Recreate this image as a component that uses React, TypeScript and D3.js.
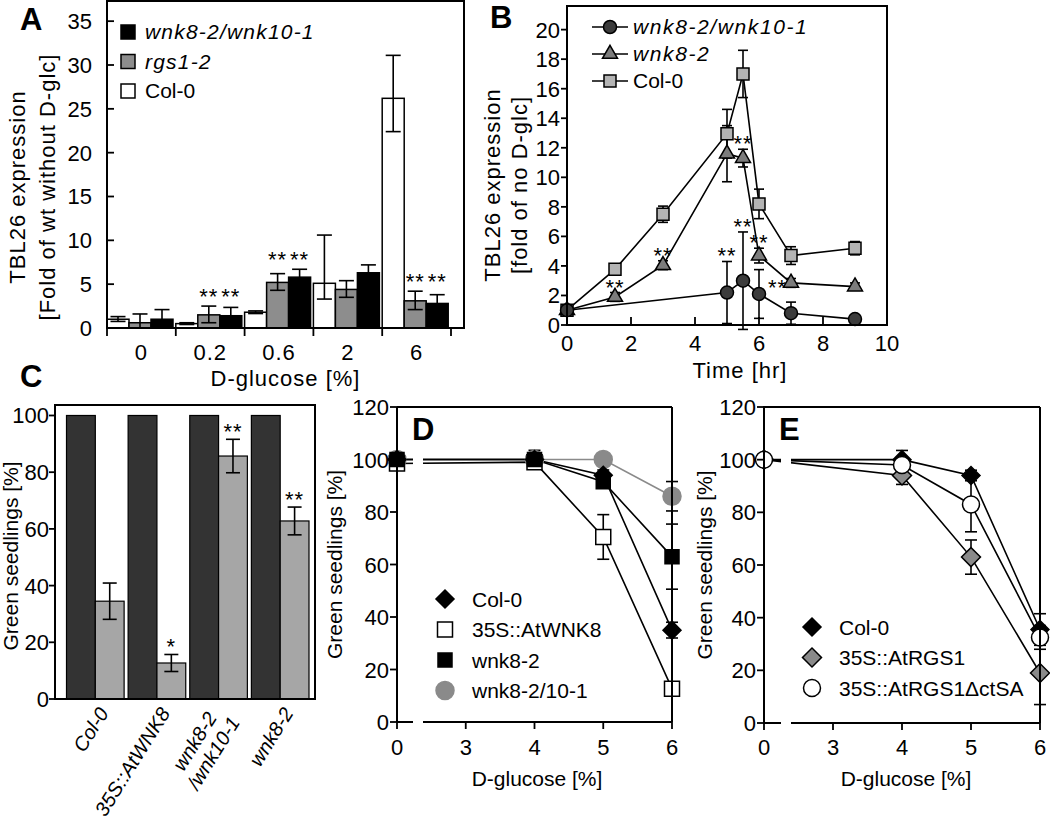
import React from "react";
import * as d3 from "d3";

const FONT = "'Liberation Sans', Arial, Helvetica, sans-serif";

// ---------------- Panel A data ----------------
const A_groups = ["0", "0.2", "0.6", "2", "6"];
const A_series = ["Col-0", "rgs1-2", "wnk8-2/wnk10-1"];
const A_col0 = [1.0, 0.5, 1.8, 5.1, 26.2];
const A_col0Up = [0.3, 0.1, 0.15, 5.5, 4.9];
const A_col0Down = [0.25, 0.1, 0.15, 1.8, 3.8];
const A_rgs = [0.6, 1.5, 5.2, 4.4, 3.1];
const A_rgsUp = [1.0, 1.0, 1.0, 1.0, 1.1];
const A_rgsDown = [0.6, 0.9, 0.9, 0.9, 1.0];
const A_wnk = [1.0, 1.4, 5.8, 6.3, 2.8];
const A_wnkUp = [1.1, 0.95, 0.9, 0.9, 1.0];
const A_wnkDown = [1.0, 0.9, 0.9, 0.9, 1.0];
const A_sig = ["", "**", "**", "", "**"];
const A_yTicks = [0, 5, 10, 15, 20, 25, 30, 35];

// ---------------- Panel B data ----------------
const B_names = ["wnk8-2/wnk10-1", "wnk8-2", "Col-0"];
const B_circleT = [0, 5, 5.5, 6, 7, 9];
const B_circle = [1.0, 2.2, 3.0, 2.1, 0.8, 0.4];
const B_circleErr = [0.15, 2.1, 3.3, 1.65, 0.75, 0.2];
const B_circleSig = ["", "**", "**", "**", "", ""];
const B_triT = [0, 1.5, 3, 5, 5.5, 6, 7, 9];
const B_tri = [1.0, 1.9, 4.05, 11.6, 11.3, 4.7, 2.85, 2.6];
const B_triErr = [0.1, 0.3, 0.3, 1.9, 0.6, 0.5, 0.3, 0.25];
const B_triSig = ["", "**", "**", "", "**", "**", "", ""];
const B_sqT = [0, 1.5, 3, 5, 5.5, 6, 7, 9];
const B_sq = [1.0, 3.77, 7.5, 12.95, 17.0, 8.2, 4.7, 5.2];
const B_sqErr = [0.1, 0.2, 0.55, 1.65, 1.6, 1.0, 0.6, 0.45];
const B_xTicks = [0, 2, 4, 6, 8, 10];
const B_yTicks = [0, 2, 4, 6, 8, 10, 12, 14, 16, 18, 20];

// ---------------- Panel C data ----------------
const C_groups = ["Col-0", "35S::AtWNK8", "wnk8-2/wnk10-1", "wnk8-2"];
const C_labelLines = [["Col-0"], ["35S::AtWNK8"], ["wnk8-2", "/wnk10-1"], ["wnk8-2"]];
const C_control = [100, 100, 100, 100];
const C_glucose = [34.5, 12.7, 85.7, 62.8];
const C_err = [6.4, 3.0, 5.9, 4.9];
const C_sig = ["", "*", "**", "**"];
const C_yTicks = [0, 20, 40, 60, 80, 100];

// ---------------- Panel D data ----------------
const D_x = [0, 4, 5, 6];
const D_names = ["Col-0", "35S::AtWNK8", "wnk8-2", "wnk8-2/10-1"];
const D_col0 = [100, 100, 94, 35];
const D_col0Err = [0, 0, 2, 3];
const D_35S = [98.5, 99, 70.5, 12.7];
const D_35SErr = [0, 1, 8.5, 0];
const D_wnk82 = [100, 100, 91.5, 63];
const D_wnk82Err = [0, 3.5, 2, 12.4];
const D_wnk8210 = [100, 100, 100, 86];
const D_wnk8210Err = [0, 0, 0, 5.6];

// ---------------- Panel E data ----------------
const E_x = [0, 4, 5, 6];
const E_names = ["Col-0", "35S::AtRGS1", "35S::AtRGS1\u0394ctSA"];
const E_col0 = [100, 100, 94, 35.5];
const E_col0Err = [0, 3.5, 2, 6];
const E_rgs1 = [100, 94, 63, 19];
const E_rgs1Err = [0, 3.4, 6.5, 12];
const E_dct = [100, 98, 83, 32.5];
const E_dctErr = [0, 2, 10.4, 4.5];

const XY_xTicks = [0, 3, 4, 5, 6];
const XY_yTicks = [0, 20, 40, 60, 80, 100, 120];

// ---------------- helpers ----------------
function ErrorBar({ x, yTop, yBot, w, sw = 1.6, stroke = "#000" }: any) {
  return (
    <g stroke={stroke} strokeWidth={sw}>
      <line x1={x} x2={x} y1={yTop} y2={yBot} />
      <line x1={x - w / 2} x2={x + w / 2} y1={yTop} y2={yTop} />
      <line x1={x - w / 2} x2={x + w / 2} y1={yBot} y2={yBot} />
    </g>
  );
}

function Marker({ type, x, y, size, fill, stroke = "#000", sw = 1.5 }: any) {
  if (type === "circle")
    return <circle cx={x} cy={y} r={size / 2} fill={fill} stroke={stroke} strokeWidth={sw} />;
  let gen;
  if (type === "square") gen = d3.symbol(d3.symbolSquare, size * size);
  else if (type === "diamond") gen = d3.symbol(d3.symbolSquare, (size * size) / 2);
  else gen = d3.symbol(d3.symbolTriangle, (Math.sqrt(3) / 4) * size * size);
  const rot = type === "diamond" ? " rotate(45)" : "";
  return (
    <path
      d={gen() as string}
      transform={`translate(${x},${y})${rot}`}
      fill={fill}
      stroke={stroke}
      strokeWidth={sw}
    />
  );
}

// ---------------- Panel A ----------------
function PanelA() {
  const L = 107, R = 464, T = 1, B = 328;
  const x0 = d3.scaleBand<string>().domain(A_groups).range([L, 451]);
  const x1 = d3.scaleBand<string>().domain(A_series).range([0, 66]);
  const y = d3.scaleLinear().domain([0, 37.3]).range([B, T]);
  const bw = x1.bandwidth();
  const series = [
    { key: A_series[0], v: A_col0, up: A_col0Up, dn: A_col0Down, fill: "#ffffff" },
    { key: A_series[1], v: A_rgs, up: A_rgsUp, dn: A_rgsDown, fill: "#8d8d8d" },
    { key: A_series[2], v: A_wnk, up: A_wnkUp, dn: A_wnkDown, fill: "#000000" },
  ];
  const bounds = [...A_groups.map((g) => x0(g) as number), x0.range()[1]];
  const legend = [
    { s: series[2], italic: true },
    { s: series[1], italic: true },
    { s: series[0], italic: false },
  ];
  return (
    <g>
      {series.map((s) =>
        A_groups.map((g, i) => (
          <rect
            key={s.key + g}
            x={(x0(g) as number) + (x1(s.key) as number)}
            y={y(s.v[i])}
            width={bw}
            height={B - y(s.v[i])}
            fill={s.fill}
            stroke="#000"
            strokeWidth={1.5}
          />
        ))
      )}
      {series.map((s) =>
        A_groups.map((g, i) => (
          <ErrorBar
            key={"e" + s.key + g}
            x={(x0(g) as number) + (x1(s.key) as number) + bw / 2}
            yTop={y(s.v[i] + s.up[i])}
            yBot={y(Math.max(0, s.v[i] - s.dn[i]))}
            w={15}
          />
        ))
      )}
      {A_groups.map((g, i) => {
        if (!A_sig[i]) return null;
        const top = Math.min(y(A_rgs[i] + A_rgsUp[i]), y(A_wnk[i] + A_wnkUp[i]));
        return [series[1], series[2]].map((s) => (
          <text
            key={"s" + g + s.key}
            x={(x0(g) as number) + (x1(s.key) as number) + bw / 2}
            y={top - 14 + 12}
            fontSize={22}
            letterSpacing={1}
            textAnchor="middle"
          >
            {A_sig[i]}
          </text>
        ));
      })}
      <rect x={L} y={T} width={R - L} height={B - T} fill="none" stroke="#000" strokeWidth={2} />
      {A_yTicks.map((t) => (
        <g key={"yt" + t}>
          <line x1={L} x2={L + 7} y1={y(t)} y2={y(t)} stroke="#000" strokeWidth={1.8} />
          <text x={L - 15} y={y(t) + 8} fontSize={22} textAnchor="end">
            {t}
          </text>
        </g>
      ))}
      {bounds.map((b, i) => (
        <line key={"xt" + i} x1={b} x2={b} y1={B} y2={B + 8} stroke="#000" strokeWidth={1.8} />
      ))}
      {A_groups.map((g) => (
        <text key={"xl" + g} x={(x0(g) as number) + x0.bandwidth() / 2} y={360} fontSize={22} letterSpacing={1} textAnchor="middle">
          {g}
        </text>
      ))}
      <text x={(L + R) / 2} y={386} fontSize={22} letterSpacing={1} textAnchor="middle">
        D-glucose [%]
      </text>
      <g transform="translate(25,187) rotate(-90)">
        <text fontSize={22} letterSpacing={1} textAnchor="middle">TBL26 expression</text>
      </g>
      <g transform="translate(55,187) rotate(-90)">
        <text fontSize={22} letterSpacing={1} textAnchor="middle">[Fold of wt without D-glc]</text>
      </g>
      {legend.map((l, i) => (
        <g key={"lg" + i}>
          <rect x={121} y={25 + i * 29.5} width={14} height={14} fill={l.s.fill} stroke="#000" strokeWidth={1.5} />
          <text
            x={145}
            y={39 + i * 29.5}
            fontSize={21}
            fontStyle={l.italic ? "italic" : "normal"}
            letterSpacing={l.italic ? 1.2 : 0}
          >
            {l.s.key}
          </text>
        </g>
      ))}
      <text x={20} y={30} fontSize={31} fontWeight="bold">A</text>
      <text x={20} y={387} fontSize={31} fontWeight="bold">C</text>
    </g>
  );
}

// ---------------- Panel B ----------------
function PanelB() {
  const L = 567, R = 887, T = 6, B = 325;
  const x = d3.scaleLinear().domain([0, 10]).range([L, R]);
  const y = d3.scaleLinear().domain([0, 21.6]).range([B, T]);
  const series = [
    { name: B_names[2], t: B_sqT, v: B_sq, e: B_sqErr, sig: null as any, type: "square", fill: "#b4b4b4", size: 12 },
    { name: B_names[1], t: B_triT, v: B_tri, e: B_triErr, sig: B_triSig, type: "triangle", fill: "#7c7c7c", size: 15 },
    { name: B_names[0], t: B_circleT, v: B_circle, e: B_circleErr, sig: B_circleSig, type: "circle", fill: "#3c3c3c", size: 13 },
  ];
  const line = d3.line<number>();
  return (
    <g>
      {series.map((s) => (
        <path
          key={"l" + s.name}
          d={line(s.t.map((t, i) => [x(t), y(s.v[i])]) as any) as string}
          fill="none"
          stroke="#000"
          strokeWidth={1.6}
        />
      ))}
      {series.map((s) =>
        s.t.map((t, i) => (
          <ErrorBar key={"e" + s.name + i} x={x(t)} yTop={y(s.v[i] + s.e[i])} yBot={y(s.v[i] - s.e[i])} w={10} />
        ))
      )}
      {series.map((s) =>
        s.t.map((t, i) => (
          <Marker key={"m" + s.name + i} type={s.type} x={x(t)} y={y(s.v[i])} size={s.size} fill={s.fill} />
        ))
      )}
      {series.map((s) =>
        s.sig
          ? s.t.map((t, i) => {
              if (!s.sig[i]) return null;
              // the circle at 6 h sits under the triangle bar: label placed beside it
              const beside = s.type === "circle" && t === 6;
              const cx = beside ? x(t) + 9 : x(t);
              const cy = beside ? y(s.v[i]) - 11 : y(s.v[i] + s.e[i]) - 10;
              return (
                <text key={"s" + s.name + i} x={cx} y={cy + 12} fontSize={22} letterSpacing={1} textAnchor={beside ? "start" : "middle"}>
                  {s.sig[i]}
                </text>
              );
            })
          : null
      )}
      <rect x={L} y={T} width={R - L} height={B - T} fill="none" stroke="#000" strokeWidth={2} />
      {B_yTicks.map((t) => (
        <g key={"yt" + t}>
          <line x1={L - 6} x2={L} y1={y(t)} y2={y(t)} stroke="#000" strokeWidth={1.8} />
          <text x={L - 7} y={y(t) + 8} fontSize={22} textAnchor="end">
            {t}
          </text>
        </g>
      ))}
      {B_xTicks.map((t) => (
        <g key={"xt" + t}>
          <line x1={x(t)} x2={x(t)} y1={B} y2={B - 8} stroke="#000" strokeWidth={1.8} />
          <text x={x(t)} y={351} fontSize={22} textAnchor="middle">
            {t}
          </text>
        </g>
      ))}
      <text x={740} y={378} fontSize={22} letterSpacing={1} textAnchor="middle">
        Time [hr]
      </text>
      <g transform="translate(500,185) rotate(-90)">
        <text fontSize={22} letterSpacing={1} textAnchor="middle">TBL26 expression</text>
      </g>
      <g transform="translate(527,185) rotate(-90)">
        <text fontSize={22} letterSpacing={1} textAnchor="middle">[fold of no D-glc]</text>
      </g>
      {[series[2], series[1], series[0]].map((s, i) => (
        <g key={"lg" + i}>
          <line x1={592} x2={628} y1={27 + i * 27} y2={27 + i * 27} stroke="#000" strokeWidth={1.6} />
          <Marker type={s.type} x={610} y={27 + i * 27} size={s.size} fill={s.fill} />
          <text
            x={633}
            y={34 + i * 27}
            fontSize={21}
            fontStyle={i < 2 ? "italic" : "normal"}
            letterSpacing={i < 2 ? 1.6 : 0}
          >
            {s.name}
          </text>
        </g>
      ))}
      <text x={490} y={28} fontSize={31} fontWeight="bold">B</text>
    </g>
  );
}

// ---------------- Panel C ----------------
function PanelC() {
  const L = 55, R = 315, T = 405, B = 699;
  const x0 = d3.scaleBand<string>().domain(C_groups).range([66.5, 309]).paddingInner(0.065);
  const x1 = d3.scaleBand<string>().domain(["control", "glucose"]).range([0, x0.bandwidth()]);
  const y = d3.scaleLinear().domain([0, 103.7]).range([B, T]);
  const bw = x1.bandwidth();
  const ang = -58;
  const rad = (ang * Math.PI) / 180;
  const perp = [-Math.sin(rad), Math.cos(rad)]; // descent direction
  return (
    <g>
      {C_groups.map((g, i) => (
        <g key={g}>
          <rect x={(x0(g) as number) + (x1("control") as number)} y={y(C_control[i])} width={bw} height={B - y(C_control[i])} fill="#333333" stroke="#000" strokeWidth={1.2} />
          <rect x={(x0(g) as number) + (x1("glucose") as number)} y={y(C_glucose[i])} width={bw} height={B - y(C_glucose[i])} fill="#a6a6a6" stroke="#000" strokeWidth={1.2} />
          <ErrorBar
            x={(x0(g) as number) + (x1("glucose") as number) + bw / 2}
            yTop={y(C_glucose[i] + C_err[i])}
            yBot={y(C_glucose[i] - C_err[i])}
            w={14}
          />
          {C_sig[i] ? (
            <text
              x={(x0(g) as number) + (x1("glucose") as number) + bw / 2}
              y={y(C_glucose[i] + C_err[i]) - 12 + 12}
              fontSize={22}
              letterSpacing={1}
              textAnchor="middle"
            >
              {C_sig[i]}
            </text>
          ) : null}
        </g>
      ))}
      <rect x={L} y={T} width={R - L} height={B - T} fill="none" stroke="#000" strokeWidth={2} />
      {C_yTicks.map((t) => (
        <g key={"yt" + t}>
          <line x1={L - 6} x2={L} y1={y(t)} y2={y(t)} stroke="#000" strokeWidth={1.8} />
          <text x={L - 6} y={y(t) + 8} fontSize={22} textAnchor="end">
            {t}
          </text>
        </g>
      ))}
      {C_groups.map((g, i) => {
        const cx = (x0(g) as number) + x0.bandwidth() / 2;
        const lines = C_labelLines[i];
        if (lines.length === 1) {
          return (
            <text key={"xl" + g} transform={`translate(${cx + 14},${B + 14}) rotate(${ang})`} fontSize={20} fontStyle="italic" textAnchor="end">
              {lines[0]}
            </text>
          );
        }
        return lines.map((ln, j) => (
          <text
            key={"xl" + g + j}
            transform={`translate(${cx - 18 + perp[0] * 22 * j},${B + 46 + perp[1] * 22 * j}) rotate(${ang})`}
            fontSize={20}
            fontStyle="italic"
            textAnchor="middle"
          >
            {ln}
          </text>
        ));
      })}
      <g transform={`translate(18,${(T + B) / 2 + 4}) rotate(-90)`}>
        <text fontSize={21} textAnchor="middle">Green seedlings [%]</text>
      </g>
    </g>
  );
}

// ---------------- Panels D & E ----------------
function XYPanel({ L, R, T, B, gap, series, names, letter, labelX, titleX }: any) {
  const x = d3.scaleLinear().domain([0, 3, 6]).range([L, L + (R - L) / 4, R]);
  const y = d3.scaleLinear().domain([0, 120]).range([B, T]);
  const line = d3.line<number>();
  return (
    <g>
      {series.map((s: any, k: number) => (
        <path
          key={"l" + k}
          d={line(s.x.map((t: number, i: number) => [x(t), y(s.v[i])]) as any) as string}
          fill="none"
          stroke={s.lineColor}
          strokeWidth={1.6}
        />
      ))}
      <rect x={gap[0]} y={T + 20} width={gap[1] - gap[0]} height={B - T} fill="#fff" />
      {series.map((s: any, k: number) =>
        s.x.map((t: number, i: number) =>
          s.e[i] > 0 ? (
            <ErrorBar key={"e" + k + i} x={x(t)} yTop={y(s.v[i] + s.e[i])} yBot={y(s.v[i] - s.e[i])} w={12} />
          ) : null
        )
      )}
      {series.map((s: any, k: number) =>
        s.x.map((t: number, i: number) => (
          <Marker key={"m" + k + i} type={s.type} x={x(t)} y={y(s.v[i])} size={s.size} fill={s.fill} stroke={s.stroke} />
        ))
      )}
      <line x1={L} x2={L} y1={T} y2={B} stroke="#000" strokeWidth={2} />
      <line x1={L} x2={R} y1={T} y2={T} stroke="#000" strokeWidth={2} />
      <line x1={R} x2={R} y1={T} y2={B} stroke="#000" strokeWidth={2} />
      <line x1={L} x2={gap[0]} y1={B} y2={B} stroke="#000" strokeWidth={2} />
      <line x1={gap[1]} x2={R} y1={B} y2={B} stroke="#000" strokeWidth={2} />
      {XY_yTicks.map((t) => (
        <g key={"yt" + t}>
          <line x1={L - 7} x2={L} y1={y(t)} y2={y(t)} stroke="#000" strokeWidth={1.8} />
          <text x={L - 8} y={y(t) + 8} fontSize={22} textAnchor="end">
            {t}
          </text>
        </g>
      ))}
      {XY_xTicks.map((t) => (
        <g key={"xt" + t}>
          <line x1={x(t)} x2={x(t)} y1={B} y2={B + 7} stroke="#000" strokeWidth={1.8} />
          <text x={x(t)} y={755} fontSize={22} textAnchor="middle">
            {t}
          </text>
        </g>
      ))}
      <text x={titleX} y={786} fontSize={21} textAnchor="middle">
        D-glucose [%]
      </text>
      <g transform={`translate(${labelX},${(T + B) / 2}) rotate(-90)`}>
        <text fontSize={21} textAnchor="middle">Green seedlings [%]</text>
      </g>
      {names.map((n: string, i: number) => {
        const s = series.find((q: any) => q.name === n);
        const ly = T + 192 + i * 30.5 + (names.length === 3 ? 28 : 0);
        return (
          <g key={"lg" + n}>
            <Marker type={s.type} x={L + 48} y={ly} size={s.size} fill={s.fill} stroke={s.stroke} />
            <text x={L + 75} y={ly + 7.5} fontSize={21}>
              {n}
            </text>
          </g>
        );
      })}
      <text x={L + 15} y={T + 33} fontSize={31} fontWeight="bold">
        {letter}
      </text>
    </g>
  );
}

function PanelD() {
  const series = [
    { name: D_names[3], x: D_x, v: D_wnk8210, e: D_wnk8210Err, type: "circle", size: 18, fill: "#8a8a8a", stroke: "#8a8a8a", lineColor: "#8a8a8a" },
    { name: D_names[0], x: D_x, v: D_col0, e: D_col0Err, type: "diamond", size: 18, fill: "#000", stroke: "#000", lineColor: "#000" },
    { name: D_names[1], x: D_x, v: D_35S, e: D_35SErr, type: "square", size: 15, fill: "#fff", stroke: "#000", lineColor: "#000" },
    { name: D_names[2], x: D_x, v: D_wnk82, e: D_wnk82Err, type: "square", size: 14, fill: "#000", stroke: "#000", lineColor: "#000" },
  ];
  return (
    <XYPanel L={397} R={672} T={407} B={722} gap={[413, 423]} series={series} names={D_names} letter="D" labelX={342} titleX={537} />
  );
}

function PanelE() {
  const series = [
    { name: E_names[1], x: E_x, v: E_rgs1, e: E_rgs1Err, type: "diamond", size: 19, fill: "#8a8a8a", stroke: "#000", lineColor: "#000" },
    { name: E_names[0], x: E_x, v: E_col0, e: E_col0Err, type: "diamond", size: 18, fill: "#000", stroke: "#000", lineColor: "#000" },
    { name: E_names[2], x: E_x, v: E_dct, e: E_dctErr, type: "circle", size: 17, fill: "#fff", stroke: "#000", lineColor: "#000" },
  ];
  return (
    <XYPanel L={764} R={1040} T={407} B={723} gap={[781, 791]} series={series} names={E_names} letter="E" labelX={712} titleX={906} />
  );
}

export default function App() {
  return (
    <svg
      width={1050}
      height={824}
      style={{ position: "absolute", left: 0, top: 0, display: "block" }}
      fontFamily={FONT}
    >
      <rect width={1050} height={824} fill="#fff" />
      <PanelA />
      <PanelB />
      <PanelC />
      <PanelD />
      <PanelE />
    </svg>
  );
}
